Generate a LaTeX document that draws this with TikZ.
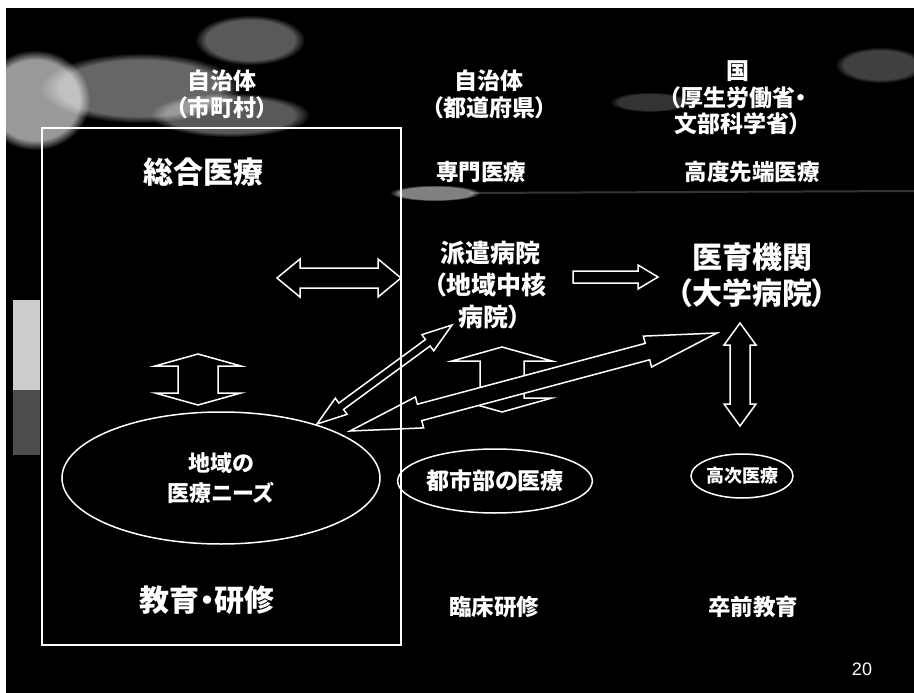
\documentclass[tikz,border=0pt]{standalone}
\usepackage{fontspec}
\newfontfamily\jp{Noto Sans CJK JP}[RawFeature=+palt]
\newfontfamily\arial{Liberation Sans}
\usetikzlibrary{calc,shapes.geometric,fadings}

% block arrows between two named points: from, to, shaft half width, head half width, head length
\newcommand{\twoway}[5]{%
  \draw[blockarrow] (#1)
    -- ($(#1)!#5!(#2)!#4!90:(#2)$) -- ($(#1)!#5!(#2)!#3!90:(#2)$)
    -- ($(#2)!#5!(#1)!#3!-90:(#1)$) -- ($(#2)!#5!(#1)!#4!-90:(#1)$)
    -- (#2)
    -- ($(#2)!#5!(#1)!#4!90:(#1)$) -- ($(#2)!#5!(#1)!#3!90:(#1)$)
    -- ($(#1)!#5!(#2)!#3!-90:(#2)$) -- ($(#1)!#5!(#2)!#4!-90:(#2)$)
    -- cycle;}
\newcommand{\oneway}[5]{%
  \draw[blockarrow] ($(#1)!#3!90:(#2)$)
    -- ($(#2)!#5!(#1)!#3!-90:(#1)$) -- ($(#2)!#5!(#1)!#4!-90:(#1)$)
    -- (#2)
    -- ($(#2)!#5!(#1)!#4!90:(#1)$) -- ($(#2)!#5!(#1)!#3!90:(#1)$)
    -- ($(#1)!#3!-90:(#2)$) -- cycle;}

\begin{document}
\begin{tikzpicture}[x=1pt,y=-1pt,
    lbl/.style={text=white,inner sep=0pt,align=center},
    govlbl/.style={lbl,font=\jp\bfseries\fontsize{23}{27}\selectfont},
    bigttl/.style={lbl,font=\jp\bfseries\fontsize{30}{36}\selectfont},
    subttl/.style={lbl,font=\jp\bfseries\fontsize{22.5}{27}\selectfont},
    oval/.style={ellipse,draw=white,line width=1.5pt,inner sep=0pt},
    haze/.style={white,path fading=circle with fuzzy edge 20 percent},
    blockarrow/.style={draw=white,fill=black,line width=1.5pt,line join=miter}]
\useasboundingbox (0,0) rectangle (914,693);
\fill[white] (0,0) rectangle (914,693);
\fill[black] (6,8) rectangle (914,693);

% scan noise of the slide background
\fill[haze,opacity=.6] (35,100) ellipse [x radius=55,y radius=50];
\fill[haze,opacity=.4] (140,88) ellipse [x radius=100,y radius=35];
\fill[haze,opacity=.35] (230,115) ellipse [x radius=80,y radius=22];
\fill[haze,opacity=.35] (250,40) ellipse [x radius=55,y radius=25];
\fill[haze,opacity=.25] (880,65) ellipse [x radius=45,y radius=18];
\fill[haze,opacity=.2] (650,102) ellipse [x radius=40,y radius=10];
\fill[white,opacity=.8] (13,300) rectangle (40,390);
\fill[white,opacity=.3] (13,390) rectangle (40,455);
\fill[haze,opacity=.5] (435,193) ellipse [x radius=45,y radius=8];
\draw[white,opacity=.2,line width=2pt] (470,193) -- (914,191);

% column heads
\node[govlbl] (city) at (222,94) {自治体\\（市町村）};
\node[govlbl] (pref) at (489,94) {自治体\\（都道府県）};
\node[lbl,font=\jp\bfseries\fontsize{23}{26.5}\selectfont] (nat) at (738,98) {国\\（厚生労働省・\\文部科学省）};

\node[bigttl] (gen) at (203,172) {総合医療};
\node[subttl] (spec) at (481,172) {専門医療};
\node[subttl] (adv) at (752,172) {高度先端医療};

\node[lbl,font=\jp\bfseries\fontsize{25}{32}\selectfont] (hosp) at (490,285) {派遣病院\\（地域中核\\病院）};
\node[bigttl] (univ) at (752,275) {医育機関\\（大学病院）};

\node[oval,minimum width=318pt,minimum height=132pt,font=\jp\bfseries\fontsize{22}{30}\selectfont,text=white,align=center]
  (needs) at (221,478) {地域の\\医療ニーズ};
\node[oval,minimum width=174pt,minimum height=64pt,font=\jp\bfseries\fontsize{23}{27}\selectfont,text=white]
  (urban) at (495,481) {都市部の医療};
\node[oval,minimum width=102pt,minimum height=44pt,font=\jp\bfseries\fontsize{18}{22}\selectfont,text=white]
  (highc) at (742,476) {高次医療};

\node[bigttl] (edu) at (207,600) {教育・研修};
\node[subttl] (clin) at (494,607) {臨床研修};
\node[subttl] (under) at (753,607) {卒前教育};

\node[lbl,font=\arial\fontsize{18}{20}\selectfont] (pg) at (862,669) {20};

% arrow ends
\coordinate (lrL) at (277,278);
\coordinate (lrR) at (401,278);
\coordinate (hospR) at (573,277);
\coordinate (univL) at (658,277);
\coordinate (genB) at (198,354);
\coordinate (needsT) at (198,405);
\coordinate (hospB) at (502,347);
\coordinate (urbanT) at (502,412);
\coordinate (univB) at (740,323);
\coordinate (highcT) at (740,426);
\coordinate (needsA) at (317,424);
\coordinate (hospTip) at (452,325);
\coordinate (needsB) at (350,431);
\coordinate (univTip) at (717,333);

\twoway{lrL}{lrR}{10pt}{19pt}{23pt}
\oneway{hospR}{univL}{6pt}{12pt}{20pt}
\twoway{genB}{needsT}{20pt}{43pt}{12pt}
\twoway{hospB}{urbanT}{22pt}{50pt}{14pt}
\twoway{univB}{highcT}{10pt}{16pt}{22pt}
\twoway{needsB}{univTip}{8.5pt}{16pt}{72pt}
\twoway{needsA}{hospTip}{4pt}{10pt}{30pt}

\node[draw=white,line width=1.2pt,minimum width=359pt,minimum height=517pt,inner sep=0pt] (local) at (221.5,386.5) {};
\end{tikzpicture}
\end{document}
